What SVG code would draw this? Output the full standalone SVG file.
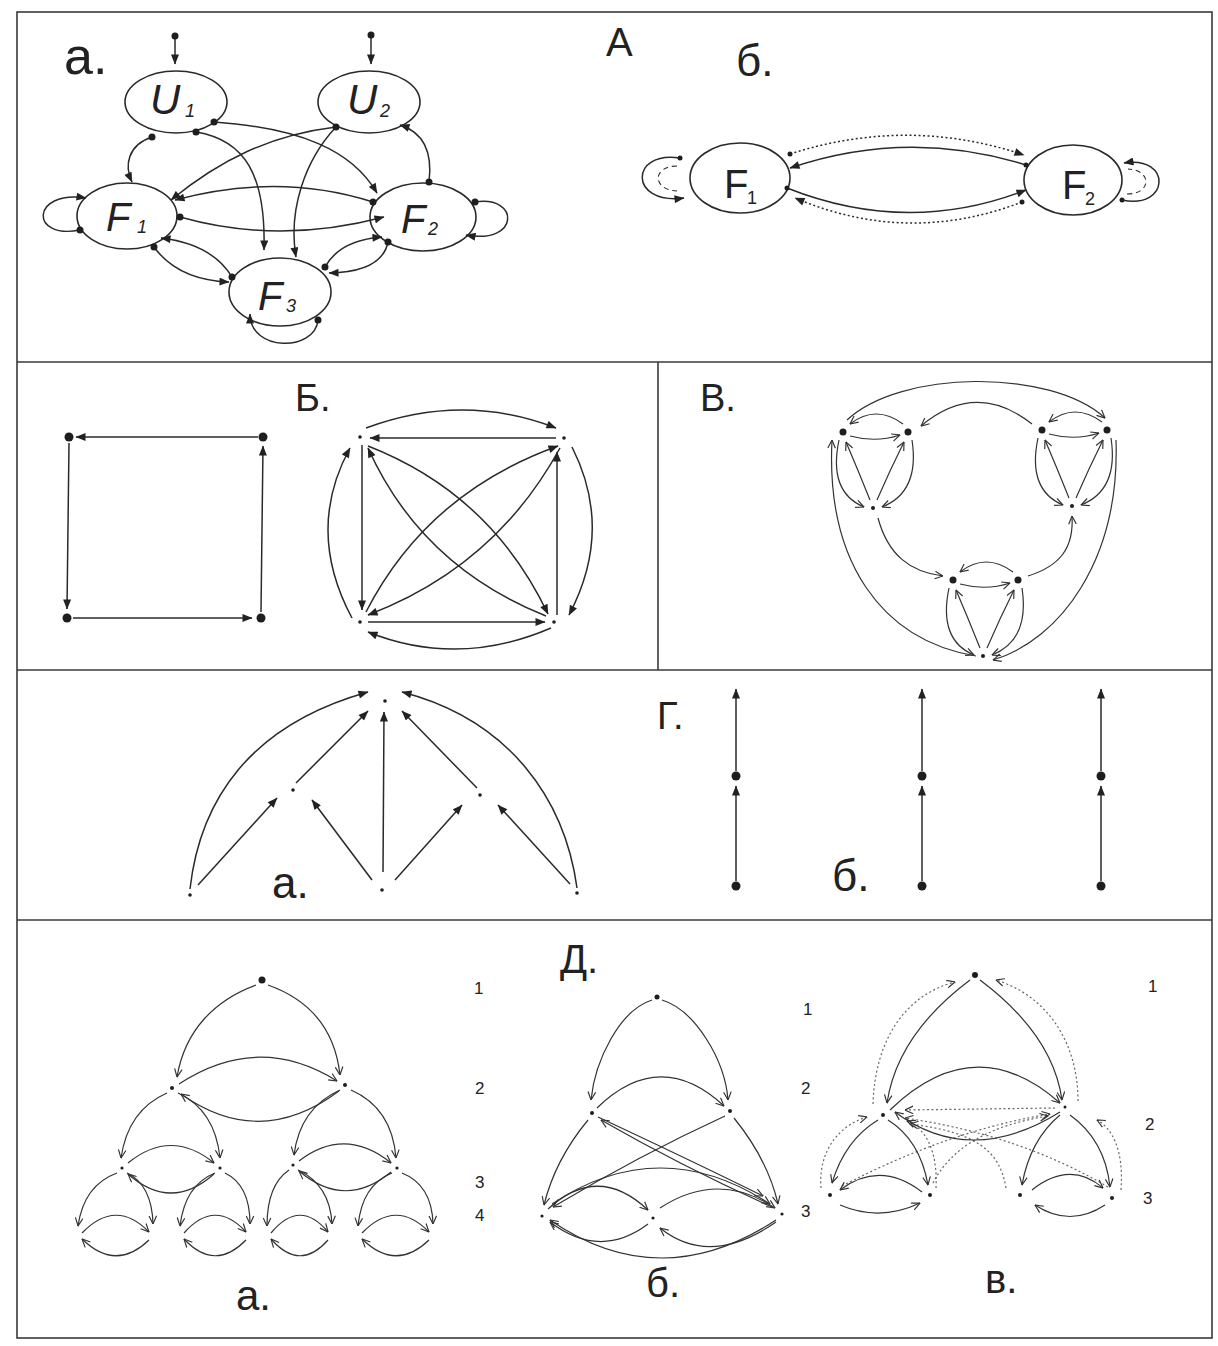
<svg xmlns="http://www.w3.org/2000/svg" width="1218" height="1346" viewBox="0 0 1218 1346">
<defs>
<marker id="tri" viewBox="0 0 10 8" refX="9.5" refY="4" markerWidth="11" markerHeight="8" markerUnits="userSpaceOnUse" orient="auto"><path d="M0,0 L10,4 L0,8 z" fill="#222"/></marker>
<marker id="chev" viewBox="0 0 10 10" refX="9.5" refY="5" markerWidth="9" markerHeight="9" markerUnits="userSpaceOnUse" orient="auto"><path d="M0.5,0.8 L9.5,5 L0.5,9.2" fill="none" stroke="#333" stroke-width="1.3"/></marker>
</defs>
<style>
.frame{fill:none;stroke:#3a3a3a;stroke-width:1.6}
.e{fill:none;stroke:#2a2a2a;stroke-width:1.5}
.t{marker-end:url(#tri)}
.c{fill:none;stroke:#333;stroke-width:1.2;marker-end:url(#chev)}
.dt{stroke-dasharray:2 2.5}
.ds{stroke-dasharray:5 4}
.node{fill:#fff;stroke:#2a2a2a;stroke-width:1.6}
.dot{fill:#1e1e1e}
.lbl{font-family:"Liberation Sans",Arial,sans-serif;fill:#222}
.it{font-family:"Liberation Sans",Arial,sans-serif;font-style:italic;fill:#222}
</style>
<rect width="1218" height="1346" fill="#fff"/>
<g id="frame">
<rect class="frame" x="17" y="12" width="1195" height="1326"/>
<line class="frame" x1="17" y1="362" x2="1212" y2="362"/>
<line class="frame" x1="17" y1="670" x2="1212" y2="670"/>
<line class="frame" x1="17" y1="920" x2="1212" y2="920"/>
<line class="frame" x1="658" y1="362" x2="658" y2="670"/>
</g>
<g id="labels" class="lbl">
<text x="64" y="74" font-size="52">а.</text>
<text x="606" y="56" font-size="40">А</text>
<text x="736" y="76" font-size="44">б.</text>
<text x="295" y="411" font-size="38">Б.</text>
<text x="700" y="411" font-size="38">В.</text>
<text x="657" y="729" font-size="38">Г.</text>
<text x="272" y="898" font-size="44">а.</text>
<text x="832" y="891" font-size="44">б.</text>
<text x="560" y="973" font-size="40">Д.</text>
<text x="236" y="1310" font-size="42">а.</text>
<text x="646" y="1297" font-size="40">б.</text>
<text x="985" y="1293" font-size="40">в.</text>
<g font-size="17">
<text x="474" y="994">1</text><text x="475" y="1094">2</text><text x="475" y="1188">3</text><text x="475" y="1221">4</text>
<text x="803" y="1015">1</text><text x="801" y="1094">2</text><text x="801" y="1217">3</text>
<text x="1148" y="992">1</text><text x="1145" y="1130">2</text><text x="1143" y="1204">3</text>
</g>
</g>
<!-- Panel A.a nodes -->
<g id="U1"><ellipse class="node" cx="176" cy="102" rx="51" ry="31"/><text class="it" x="150" y="114" font-size="42">U</text><text class="it" x="185" y="117" font-size="18">1</text></g>
<g id="U2"><ellipse class="node" cx="369" cy="102" rx="51" ry="31"/><text class="it" x="347" y="114" font-size="42">U</text><text class="it" x="380" y="117" font-size="18">2</text></g>
<g id="F1a"><ellipse class="node" cx="127" cy="216" rx="50" ry="33"/><text class="it" x="106" y="231" font-size="40">F</text><text class="it" x="137" y="233" font-size="18">1</text></g>
<g id="F2a"><ellipse class="node" cx="423" cy="217" rx="53" ry="34"/><text class="it" x="401" y="233" font-size="40">F</text><text class="it" x="428" y="235" font-size="18">2</text></g>
<g id="F3a"><ellipse class="node" cx="280" cy="292" rx="51" ry="34"/><text class="it" x="258" y="310" font-size="40">F</text><text class="it" x="286" y="312" font-size="18">3</text></g>
<!-- Panel A.b nodes -->
<g id="F1b"><ellipse class="node" cx="740" cy="178" rx="50" ry="35"/><text class="lbl" x="724" y="198" font-size="40">F</text><text class="lbl" x="747" y="204" font-size="18">1</text></g>
<g id="F2b"><ellipse class="node" cx="1073" cy="180" rx="49" ry="35"/><text class="lbl" x="1062" y="199" font-size="40">F</text><text class="lbl" x="1085" y="205" font-size="18">2</text></g>
<!-- Panel B nodes -->
<g id="sq" class="dot"><circle cx="69" cy="437" r="4.5"/><circle cx="263" cy="437" r="4.5"/><circle cx="67" cy="618" r="4.5"/><circle cx="261" cy="618" r="4.5"/></g>
<g id="k4" class="dot"><circle cx="360" cy="437" r="1.8"/><circle cx="564" cy="438" r="1.8"/><circle cx="360" cy="622" r="1.8"/><circle cx="554" cy="622" r="1.8"/></g>
<!-- Panel V nodes -->
<g id="tri1" class="dot"><circle cx="843" cy="432" r="3.5"/><circle cx="908" cy="432" r="3.5"/><circle cx="873" cy="508" r="2"/></g>
<g id="tri2" class="dot"><circle cx="1042" cy="430" r="3.5"/><circle cx="1107" cy="430" r="3.5"/><circle cx="1072" cy="506" r="2"/></g>
<g id="tri3" class="dot"><circle cx="953" cy="580" r="3.5"/><circle cx="1018" cy="580" r="3.5"/><circle cx="983" cy="656" r="2"/></g>
<!-- Panel G nodes -->
<g id="Ga" class="dot"><circle cx="385" cy="701" r="1.8"/><circle cx="293" cy="790" r="1.8"/><circle cx="480" cy="795" r="1.8"/><circle cx="190" cy="895" r="1.8"/><circle cx="382" cy="890" r="1.8"/><circle cx="577" cy="893" r="1.8"/></g>
<g id="Gb" class="dot"><circle cx="736" cy="776" r="4.5"/><circle cx="736" cy="886" r="4.5"/><circle cx="922" cy="776" r="4.5"/><circle cx="922" cy="886" r="4.5"/><circle cx="1101" cy="776" r="4.5"/><circle cx="1101" cy="886" r="4.5"/></g>
<!-- Panel D nodes -->
<g id="Da" class="dot"><circle cx="262" cy="980" r="3.5"/><circle cx="172" cy="1088" r="2"/><circle cx="345" cy="1085" r="2"/><circle cx="122" cy="1168" r="1.6"/><circle cx="220" cy="1168" r="1.6"/><circle cx="293" cy="1165" r="1.6"/><circle cx="397" cy="1168" r="1.6"/></g>
<g id="Db" class="dot"><circle cx="657" cy="997" r="2.5"/><circle cx="592" cy="1113" r="2"/><circle cx="730" cy="1111" r="2"/><circle cx="542" cy="1216" r="1.6"/><circle cx="653" cy="1218" r="1.6"/><circle cx="782" cy="1214" r="1.6"/></g>
<g id="Dv" class="dot"><circle cx="975" cy="975" r="3"/><circle cx="883" cy="1115" r="2"/><circle cx="1065" cy="1107" r="1.5"/><circle cx="830" cy="1195" r="2"/><circle cx="930" cy="1195" r="2"/><circle cx="1020" cy="1195" r="2"/><circle cx="1112" cy="1198" r="2"/></g>

<g id="connectors">
<!-- A.a -->
<g class="e">
<path class="t" d="M175,36 L175,64"/>
<path class="t" d="M371,35 L371,64"/>
<path class="t" d="M152,137 C128,145 124,165 132,182"/>
<path class="t" d="M196,132 C245,140 266,175 264,250"/>
<path class="t" d="M214,122 C300,128 352,150 377,193"/>
<path class="t" d="M336,127 C270,135 220,160 171,200"/>
<path class="t" d="M336,127 C305,160 288,210 296,257"/>
<path class="t" d="M429,182 C433,150 422,132 400,125"/>
<path class="t" d="M373,202 Q279,172 175,200"/>
<path class="t" d="M180,217 Q279,245 384,217"/>
<path class="t" d="M154,247 Q178,280 229,282"/>
<path class="t" d="M232,277 Q212,244 161,238"/>
<path class="t" d="M388,242 Q382,272 329,273"/>
<path class="t" d="M325,267 Q340,240 382,237"/>
<path class="t" d="M80,230 C30,240 30,190 86,198"/>
<path class="t" d="M475,202 C520,195 520,245 466,235"/>
<path class="t" d="M318,320 C315,352 250,352 250,314"/>
</g>
<g class="dot">
<circle cx="175" cy="36" r="3.5"/><circle cx="371" cy="35" r="3.5"/>
<circle cx="152" cy="137" r="3.5"/><circle cx="196" cy="132" r="3.5"/><circle cx="214" cy="122" r="3.5"/><circle cx="336" cy="127" r="3.5"/>
<circle cx="429" cy="182" r="3.5"/><circle cx="373" cy="202" r="3.5"/><circle cx="180" cy="217" r="3.5"/><circle cx="154" cy="247" r="3.5"/>
<circle cx="232" cy="277" r="3.5"/><circle cx="388" cy="242" r="3.5"/><circle cx="325" cy="267" r="3.5"/>
<circle cx="80" cy="230" r="3.5"/><circle cx="475" cy="202" r="3.5"/><circle cx="318" cy="320" r="3.5"/>
</g>
<!-- A.b -->
<g class="e">
<path class="t" d="M1026,165 Q908,128 790,168"/>
<path class="t" d="M787,188 Q908,236 1026,190"/>
<path class="t dt" d="M790,154 Q908,116 1024,155"/>
<path class="t dt" d="M1022,202 Q908,246 795,198"/>
<path class="t" d="M680,158 C630,150 628,205 684,198"/>
<path class="ds" stroke-width="1.1" d="M677,166 C652,166 652,190 677,191"/>
<path class="t" d="M1122,200 C1170,210 1172,155 1124,163"/>
<path class="ds" stroke-width="1.1" d="M1127,194 C1152,194 1152,170 1128,169"/>
</g>
<g class="dot"><circle cx="1026" cy="165" r="2.5"/><circle cx="790" cy="154" r="2.5"/><circle cx="787" cy="188" r="2.5"/><circle cx="1022" cy="202" r="2.5"/><circle cx="680" cy="158" r="2.5"/><circle cx="1122" cy="200" r="2.5"/></g>
<!-- B square -->
<g class="e">
<path class="t" d="M258,437 L76,437"/>
<path class="t" d="M261,612 L263,446"/>
<path class="t" d="M69,443 L67,609"/>
<path class="t" d="M73,618 L252,618"/>
</g>
<!-- B K4 -->
<g class="e" stroke-width="1.4">
<path class="t" d="M556,438 L370,438"/>
<path class="t" d="M366,428 Q463,392 556,428"/>
<path class="t" d="M362,445 L362,610"/>
<path class="t" d="M352,618 Q305,530 350,448"/>
<path class="t" d="M557,615 L557,452"/>
<path class="t" d="M572,447 Q614,530 569,615"/>
<path class="t" d="M368,622 L545,622"/>
<path class="t" d="M551,628 Q458,668 368,632"/>
<path class="t" d="M368,446 Q491,494 548,614"/>
<path class="t" d="M546,616 Q421,566 368,448"/>
<path class="t" d="M366,612 Q427,493 558,446"/>
<path class="t" d="M560,448 Q495,567 368,615"/>
</g>
<!-- V triangles -->
<g id="triEdges1">
<path class="c" d="M903,424 Q876,404 850,424"/>
<path class="c" d="M850,436 Q876,443 900,435"/>
<path class="c" d="M839,440 Q828,492 864,507"/>
<path class="c" d="M870,500 Q858,470 846,442"/>
<path class="c" d="M912,440 Q920,492 882,507"/>
<path class="c" d="M877,500 Q890,470 904,442"/>
</g>
<use href="#triEdges1" transform="translate(199,-2)"/>
<use href="#triEdges1" transform="translate(110,148)"/>
<g>
<path class="c" d="M847,420 C900,370 1050,368 1105,418"/>
<path class="c" d="M1032,424 Q976,380 921,426"/>
<path class="c" d="M878,518 C888,555 910,572 943,576"/>
<path class="c" d="M1028,576 C1060,566 1074,548 1072,516"/>
<path class="c" d="M976,656 C880,640 826,560 832,440"/>
<path class="c" d="M1116,440 C1120,560 1060,640 993,660"/>
</g>
<!-- G.a -->
<g class="e" stroke-width="1.3">
<path class="t" d="M190,889 C200,800 250,725 368,692"/>
<path class="t" d="M577,888 C565,800 510,720 402,692"/>
<path class="t" d="M296,783 L368,711"/>
<path class="t" d="M477,788 L402,711"/>
<path class="t" d="M383,872 L384,712"/>
<path class="t" d="M198,885 L277,798"/>
<path class="t" d="M372,880 L312,800"/>
<path class="t" d="M395,880 L462,805"/>
<path class="t" d="M570,884 L498,805"/>
</g>
<!-- G.b -->
<g class="e" stroke-width="1.3">
<path class="t" d="M736,771 L736,689"/><path class="t" d="M736,881 L736,786"/>
<path class="t" d="M922,771 L922,689"/><path class="t" d="M922,881 L922,786"/>
<path class="t" d="M1101,771 L1101,689"/><path class="t" d="M1101,881 L1101,786"/>
</g>
<!-- D.a -->
<g>
<path class="c" d="M256,985 C215,1000 185,1030 177,1077"/>
<path class="c" d="M268,985 C310,1000 335,1030 340,1075"/>
<path class="c" d="M179,1084 Q258,1032 337,1081"/>
<path class="c" d="M339,1091 Q260,1150 181,1094"/>
<path class="c" d="M167,1093 Q128,1110 121,1158"/>
<path class="c" d="M178,1093 Q215,1110 220,1158"/>
<path class="c" d="M340,1090 Q300,1108 294,1155"/>
<path class="c" d="M351,1090 Q392,1108 396,1158"/>
<path class="c" d="M128,1163 Q171,1128 214,1163"/>
<path class="c" d="M214,1174 Q171,1212 128,1174"/>
<path class="c" d="M299,1161 Q345,1126 391,1163"/>
<path class="c" d="M391,1172 Q345,1210 299,1171"/>
<path class="c" d="M117,1173 Q84,1185 78,1226"/>
<path class="c" d="M127,1173 Q152,1185 153,1224"/>
<path class="c" d="M215,1173 Q185,1185 180,1226"/>
<path class="c" d="M225,1173 Q250,1185 250,1224"/>
<path class="c" d="M289,1170 Q267,1185 267,1226"/>
<path class="c" d="M298,1170 Q330,1185 332,1224"/>
<path class="c" d="M392,1173 Q362,1185 358,1226"/>
<path class="c" d="M402,1173 Q432,1185 433,1224"/>
<path class="c" d="M82,1233 Q116,1198 149,1232"/><path class="c" d="M149,1240 Q116,1272 82,1239"/>
<path class="c" d="M184,1233 Q215,1198 246,1232"/><path class="c" d="M246,1240 Q215,1272 184,1239"/>
<path class="c" d="M271,1233 Q300,1198 328,1232"/><path class="c" d="M328,1240 Q300,1272 271,1239"/>
<path class="c" d="M362,1233 Q396,1198 429,1232"/><path class="c" d="M429,1240 Q396,1272 362,1239"/>
</g>
<!-- D.b -->
<g>
<path class="c" d="M652,1000 C620,1010 595,1060 591,1100"/>
<path class="c" d="M662,1000 C695,1010 725,1060 728,1100"/>
<path class="c" d="M597,1108 Q660,1047 724,1106"/>
<path class="c" d="M588,1120 Q555,1160 544,1205"/>
<path class="c" d="M734,1118 Q768,1160 778,1204"/>
<path class="c" d="M725,1116 Q640,1155 553,1207"/>
<path class="c" d="M598,1117 Q690,1160 763,1196"/>
<path class="c" d="M772,1207 Q685,1168 601,1120"/>
<path class="c" d="M548,1209 Q598,1163 648,1210"/>
<path class="c" d="M660,1208 Q718,1170 775,1208"/>
<path class="c" d="M552,1204 Q660,1132 770,1204"/>
<path class="c" d="M776,1220 Q660,1296 550,1220"/>
<path class="c" d="M648,1224 Q600,1260 550,1222"/>
<path class="c" d="M776,1222 Q710,1268 660,1228"/>
</g>
<!-- D.v solid -->
<g>
<path class="c" d="M970,980 C930,1010 895,1050 887,1103"/>
<path class="c" d="M980,980 C1020,1010 1055,1050 1062,1100"/>
<path class="c" d="M890,1110 Q975,1028 1060,1103"/>
<path class="c" d="M1060,1112 Q970,1168 895,1112"/>
<path class="c" d="M878,1120 Q845,1140 832,1183"/>
<path class="c" d="M888,1120 Q920,1140 928,1185"/>
<path class="c" d="M922,1192 Q880,1160 840,1190"/>
<path class="c" d="M840,1205 Q880,1222 920,1203"/>
<path class="c" d="M1060,1115 Q1030,1140 1022,1185"/>
<path class="c" d="M1070,1115 Q1105,1140 1110,1187"/>
<path class="c" d="M1032,1190 Q1070,1160 1103,1188"/>
<path class="c" d="M1105,1205 Q1070,1228 1035,1205"/>
</g>
<!-- D.v dotted -->
<g stroke-opacity="0.75">
<path class="c dt" d="M873,1104 C875,1040 905,995 955,982"/>
<path class="c dt" d="M1078,1101 C1078,1040 1045,995 996,980"/>
<path class="c dt" d="M821,1188 C818,1150 840,1125 867,1117"/>
<path class="c dt" d="M936,1188 C938,1150 925,1128 907,1121"/>
<path class="c dt" d="M1121,1190 C1124,1150 1112,1128 1097,1120"/>
<path class="c dt" d="M1006,1188 C1000,1150 975,1132 910,1124"/>
<path class="c dt" d="M842,1186 Q950,1130 1050,1114"/>
<path class="c dt" d="M1108,1187 Q1020,1135 905,1118"/>
<path class="c dt" d="M1055,1108 L905,1110"/>
<path class="c dt" d="M933,1183 Q960,1130 1048,1116"/>
</g>
</g>
</svg>
